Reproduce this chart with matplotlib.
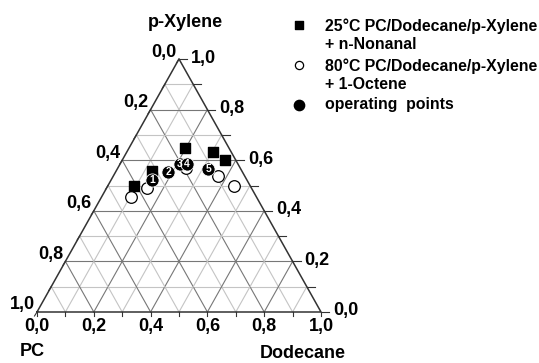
import numpy as np
import matplotlib.pyplot as plt

plt.rcParams['font.family'] = ['Liberation Sans', 'DejaVu Sans']
plt.rcParams['font.weight'] = 'bold'

# compositions as (dodecane, p-xylene) fractions; PC = 1 - both
sq_dod = [0.196, 0.303, 0.360, 0.125, 0.093]
sq_xyl = [0.649, 0.631, 0.601, 0.557, 0.499]

oc_dod = [0.240, 0.369, 0.444, 0.142, 0.103]
oc_xyl = [0.568, 0.539, 0.499, 0.489, 0.453]

op_dod = [0.145, 0.185, 0.212, 0.237, 0.321]
op_xyl = [0.522, 0.555, 0.584, 0.584, 0.565]
op_lab = ['1', '2', '3', '4', '5']

tick_vals = [0.0, 0.2, 0.4, 0.6, 0.8, 1.0]
tick_txt = ['0,0', '0,2', '0,4', '0,6', '0,8', '1,0']

legend_txt = ['25°C PC/Dodecane/p-Xylene\n+ n-Nonanal',
              '80°C PC/Dodecane/p-Xylene\n+ 1-Octene',
              'operating  points']

H = 253 / 284  # triangle height / width as drawn


def tern(d, x):
    d = np.asarray(d, dtype=float)
    x = np.asarray(x, dtype=float)
    return d + x / 2, x * H


def pix(x, y):
    # pixel position in the picture -> data coords
    return (x - 37) / 284, (312 - y) / 284


fig = plt.figure(figsize=(5.39, 3.63), dpi=100)
ax = fig.add_axes([0, 0, 1, 1])
ax.set_xlim(-37 / 284, 502 / 284)
ax.set_ylim(-51 / 284, 312 / 284)
ax.axis('off')
px = 1 / 284  # one pixel in data units

# grid lines
for v in np.arange(1, 10) / 10:
    col = '#777777' if round(v * 10) % 2 == 0 else '#c4c4c4'
    a = tern([0, 1 - v], [v, v])          # constant p-xylene
    ax.plot(a[0], a[1], color=col, lw=0.8, zorder=1)
    b = tern([v, v], [0, 1 - v])          # constant dodecane
    ax.plot(b[0], b[1], color=col, lw=0.8, zorder=1)
    c = tern([1 - v, 0], [0, 1 - v])      # constant PC
    ax.plot(c[0], c[1], color=col, lw=0.8, zorder=1)

# outline
o = tern([0, 1, 0, 0], [0, 0, 1, 0])
ax.plot(o[0], o[1], color='#333333', lw=1.1, zorder=2)

# ticks
for v in np.arange(0, 11) / 10:
    bx, by = tern(v, 0)
    ax.plot([bx, bx], [by, by - 4 * px], color='#333333', lw=0.8)
    rx, ry = tern(1 - v, v)
    ax.plot([rx, rx + 8 * px], [ry, ry], color='#333333', lw=0.8)
    lx, ly = tern(0, 1 - v)
    ax.plot([lx, lx - 2.5 * px], [ly, ly - 4 * px], color='#333333', lw=0.8)

fs = 13
for v, t in zip(tick_vals, tick_txt):
    bx, by = tern(v, 0)
    ax.text(bx, by - 15 * px, t, ha='center', va='center', fontsize=fs)
    rx, ry = tern(1 - v, v)
    ax.text(rx + 12 * px, ry + 1 * px, t, ha='left', va='center', fontsize=fs)
    lx, ly = tern(0, 1 - v)
    ax.text(lx - 2 * px, ly + 7 * px, t, ha='right', va='center', fontsize=fs)

ax.text(*pix(185, 22), 'p-Xylene', ha='center', va='center', fontsize=13)
ax.text(*pix(32, 352), 'PC', ha='center', va='center', fontsize=13)
ax.text(*pix(303, 353), 'Dodecane', ha='center', va='center', fontsize=13)

# data
sx, sy = tern(sq_dod, sq_xyl)
ax.scatter(sx, sy, marker='s', s=60, color='black', zorder=5)
cx, cy = tern(oc_dod, oc_xyl)
ax.scatter(cx, cy, marker='o', s=70, facecolor='white', edgecolor='black',
           lw=0.9, zorder=5)
qx, qy = tern(op_dod, op_xyl)
for x, y, t in zip(qx, qy, op_lab):
    ax.scatter([x], [y], marker='o', s=90, color='black', edgecolor='white',
               lw=0.6, zorder=6)
    ax.text(x, y, t, color='white', fontsize=7.5, ha='center', va='center',
            zorder=7)

# legend
ax.scatter(*pix(299, 25), marker='s', s=30, color='black')
ax.scatter(*pix(299, 65), marker='o', s=35, facecolor='white',
           edgecolor='black', lw=0.9)
ax.scatter(*pix(299, 105), marker='o', s=55, color='black')
ax.text(*pix(325, 35), legend_txt[0], ha='left', va='center',
        fontsize=11.4, linespacing=1.25)
ax.text(*pix(325, 75), legend_txt[1], ha='left', va='center',
        fontsize=11.4, linespacing=1.25)
ax.text(*pix(325, 105), legend_txt[2], ha='left', va='center',
        fontsize=11.4)

fig.savefig('out.png', dpi=100)
